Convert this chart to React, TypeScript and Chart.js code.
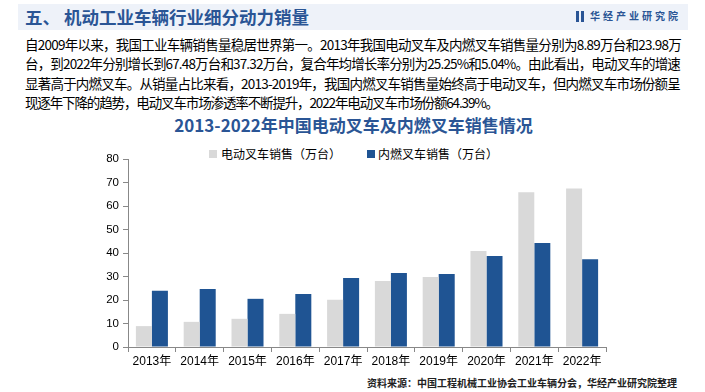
import React, { useEffect, useLayoutEffect, useRef } from "react";
import { Chart, registerables } from "chart.js";

Chart.register(...registerables);

const years = ["2013年", "2014年", "2015年", "2016年", "2017年", "2018年", "2019年", "2020年", "2021年", "2022年"];
const electricSales = [8.89, 10.7, 12.0, 14.1, 20.1, 28.1, 29.8, 40.9, 65.9, 67.48];
const iceSales = [23.98, 24.7, 20.5, 22.6, 29.4, 31.5, 31.1, 38.7, 44.3, 37.32];
const yTicks = [0, 80, 10];

const seriesNames = ["电动叉车销售（万台）", "内燃叉车销售（万台）"];
const seriesColors = ["#d9d9d9", "#1f5493"];

const paragraphLines = [
  "自2009年以来，我国工业车辆销售量稳居世界第一。2013年我国电动叉车及内燃叉车销售量分别为8.89万台和23.98万",
  "台，到2022年分别增长到67.48万台和37.32万台，复合年均增长率分别为25.25%和5.04%。由此看出，电动叉车的增速",
  "显著高于内燃叉车。从销量占比来看，2013-2019年，我国内燃叉车销售量始终高于电动叉车，但内燃叉车市场份额呈",
  "现逐年下降的趋势，电动叉车市场渗透率不断提升，2022年电动叉车市场份额64.39%。",
];
const lineTargetWidths = [656, 655, 655, 473];

const CJK = '"Noto Sans CJK SC", "Noto Sans", sans-serif';
const AX = '"Liberation Sans", Arial, "Noto Sans CJK SC", sans-serif';

export default function App() {
  const ref = useRef<HTMLCanvasElement | null>(null);
  const lineRefs = useRef<(HTMLDivElement | null)[]>([]);

  useLayoutEffect(() => {
    const fit = () => {
      lineRefs.current.forEach((el, i) => {
        if (!el) return;
        el.style.letterSpacing = "0px";
        const w = el.getBoundingClientRect().width;
        const n = Array.from(paragraphLines[i]).length;
        el.style.letterSpacing = (lineTargetWidths[i] - w) / n + "px";
      });
    };
    fit();
    if ((document as any).fonts && (document as any).fonts.ready) {
      (document as any).fonts.ready.then(fit);
    }
  }, []);

  useEffect(() => {
    if (!ref.current) return;
    const chart = new Chart(ref.current, {
      type: "bar",
      data: {
        labels: years,
        datasets: [
          {
            label: seriesNames[0],
            data: electricSales,
            backgroundColor: seriesColors[0],
            categoryPercentage: 0.67,
            barPercentage: 1.0,
          },
          {
            label: seriesNames[1],
            data: iceSales,
            backgroundColor: seriesColors[1],
            categoryPercentage: 0.67,
            barPercentage: 1.0,
          },
        ],
      },
      options: {
        responsive: false,
        animation: false,
        layout: { padding: { top: 14, right: 14, left: 0, bottom: 0 } },
        plugins: { legend: { display: false }, tooltip: { enabled: false } },
        scales: {
          x: {
            grid: { offset: true, drawOnChartArea: false, drawTicks: true, tickLength: 5, color: "#888" },
            border: { color: "#888", width: 1 },
            ticks: { color: "#000", font: { size: 12, family: AX }, padding: 2, maxRotation: 0 },
            afterFit: (s: any) => {
              s.height = 28;
            },
          },
          y: {
            min: yTicks[0],
            max: yTicks[1],
            grid: { drawOnChartArea: false, drawTicks: true, tickLength: 5, color: "#888" },
            border: { color: "#888", width: 1 },
            ticks: { stepSize: yTicks[2], color: "#000", font: { size: 11.5, family: AX }, padding: 4 },
            afterFit: (s: any) => {
              s.width = 48;
            },
          },
        },
      },
    });
    return () => chart.destroy();
  }, []);

  return (
    <div
      style={{
        position: "fixed",
        left: 0,
        top: 0,
        width: 705,
        height: 392,
        background: "#fff",
        overflow: "hidden",
        fontFamily: CJK,
      }}
    >
      {/* header band */}
      <div
        style={{
          position: "absolute",
          left: 18,
          top: 4,
          width: 670,
          height: 26,
          background: "#eef2f9",
        }}
      />
      <div
        style={{
          position: "absolute",
          left: 25,
          top: 4,
          height: 26,
          lineHeight: "26px",
          fontSize: 17.5,
          fontWeight: 700,
          color: "#2a5595",
          whiteSpace: "nowrap",
        }}
      >
        五、 机动工业车辆行业细分动力销量
      </div>
      <div style={{ position: "absolute", left: 576, top: 11, width: 3, height: 11, background: "#2a5595" }} />
      <div style={{ position: "absolute", left: 581, top: 11, width: 3, height: 11, background: "#2a5595" }} />
      <div
        style={{
          position: "absolute",
          left: 590,
          top: 8,
          lineHeight: "16px",
          fontSize: 10,
          fontWeight: 700,
          letterSpacing: 3,
          color: "#2a5595",
          whiteSpace: "nowrap",
        }}
      >
        华经产业研究院
      </div>

      {/* paragraph */}
      {paragraphLines.map((t, i) => (
        <div
          key={i}
          ref={(el) => {
            lineRefs.current[i] = el;
          }}
          style={{
            position: "absolute",
            left: 25,
            top: 35 + i * 19.4,
            lineHeight: "19px",
            fontSize: 13.5,
            color: "#000",
            whiteSpace: "nowrap",
          }}
        >
          {t}
        </div>
      ))}

      {/* chart title */}
      <div
        style={{
          position: "absolute",
          left: 0,
          width: 705,
          top: 113,
          textAlign: "center",
          paddingLeft: 1,
          lineHeight: "24px",
          fontSize: 17,
          fontWeight: 700,
          color: "#2a5595",
          whiteSpace: "nowrap",
        }}
      >
        2013-2022年中国电动叉车及内燃叉车销售情况
      </div>

      {/* legend */}
      <div style={{ position: "absolute", left: 209, top: 150, width: 8, height: 8, background: seriesColors[0] }} />
      <div
        style={{
          position: "absolute",
          left: 221,
          top: 145,
          lineHeight: "18px",
          fontSize: 12,
          color: "#000",
          whiteSpace: "nowrap",
        }}
      >
        {seriesNames[0]}
      </div>
      <div style={{ position: "absolute", left: 367, top: 150, width: 8, height: 8, background: seriesColors[1] }} />
      <div
        style={{
          position: "absolute",
          left: 378,
          top: 145,
          lineHeight: "18px",
          fontSize: 12,
          color: "#000",
          whiteSpace: "nowrap",
        }}
      >
        {seriesNames[1]}
      </div>

      <canvas
        ref={ref}
        width={540}
        height={230}
        style={{ position: "absolute", left: 80, top: 145, width: 540, height: 230 }}
      />

      {/* source */}
      <div
        style={{
          position: "absolute",
          left: 367,
          top: 376,
          lineHeight: "14px",
          fontSize: 10,
          fontWeight: 700,
          color: "#222",
          whiteSpace: "nowrap",
        }}
      >
        资料来源：中国工程机械工业协会工业车辆分会，华经产业研究院整理
      </div>
    </div>
  );
}
